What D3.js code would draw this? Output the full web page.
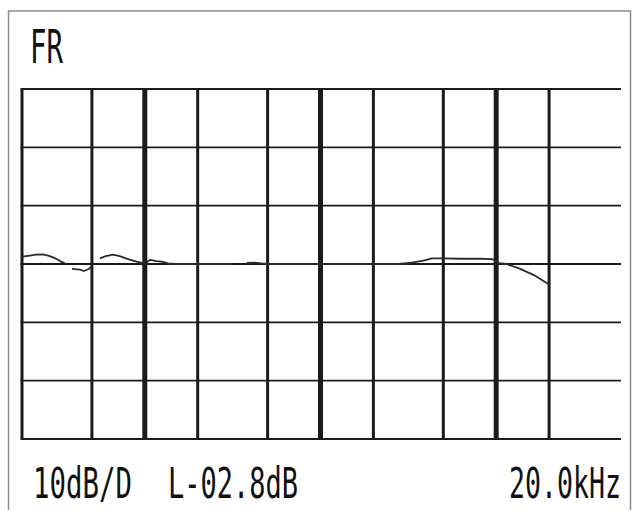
<!DOCTYPE html>
<html>
<head>
<meta charset="utf-8">
<script src="https://cdn.jsdelivr.net/npm/d3@7"></script>
<style>
  html, body { margin: 0; padding: 0; background: #fff; }
  svg { display: block; }
</style>
</head>
<body>
<div id="chart"></div>
<script>
// Data: grid frequencies (Hz), level divisions (dB) and the measured trace
const gridFreqs = [20, 50, 100, 200, 500, 1000, 2000, 5000, 10000, 20000];
const decadeFreqs = [100, 1000, 10000];
const levelTicks = [-30, -20, -10, 0, 10, 20, 30];

// null = the trace drops out on the screen
const traceFreq = [20, 22.2, 24, 26.3, 28.5, 30.8, 33, 35, 36.5, 38.5, 42.7, 45, 48, 49.5, 52,
  55.5, 60, 65.8, 72, 82, 90, 97.5, 102, 107, 117, 127, 135, 150, 316, 330, 380, 420, 462,
  500, 2800, 3290, 3800, 4320, 5060, 6160, 8000, 9490, 10400, 11400, 13500, 16400, 20000];
const traceDb = [1.25, 1.45, 1.6, 1.65, 1.4, 1.0, 0.5, 0.1, null, -0.85, -0.95, -1.2, -0.85, -0.5, null,
  0.95, 1.35, 1.6, 1.35, 0.75, 0.4, 0.15, 0.3, 0.7, 0.5, 0.35, 0.1, 0, 0, null, 0.2, 0.25, 0.1,
  0, 0, 0.25, 0.55, 0.95, 0.95, 0.9, 0.9, 0.85, 0.15, 0, -0.75, -1.9, -3.5];

const title = "FR";
const footer = ["10dB/D", "L-02.8dB", "20.0kHz"];

const width = 639;
const height = 510;

const svg = d3.select("#chart")
  .append("svg")
  .attr("width", width)
  .attr("height", height);

// outer screen frame (bottom edge falls below the picture)
svg.append("rect")
  .attr("x", 8.5).attr("y", 11)
  .attr("width", 622).attr("height", 510)
  .attr("fill", "none")
  .attr("stroke", "#8c8c8c")
  .attr("stroke-width", 1.5);

const x = d3.scaleLog().domain([20, 50000]).range([22, 619]);
const y = d3.scaleLinear().domain([-30, 30]).range([439, 89]);

const ink = "#1b1b1b";
const grid = svg.append("g");

// horizontal divisions
grid.selectAll("line.h")
  .data(levelTicks)
  .join("line")
  .attr("class", "h")
  .attr("x1", x(20) - 1.5).attr("x2", x(50000) + 2)
  .attr("y1", d => y(d)).attr("y2", d => y(d))
  .attr("stroke", ink)
  .attr("stroke-width", 1.8);

// vertical frequency lines, decades heavier
grid.selectAll("line.v")
  .data(gridFreqs)
  .join("line")
  .attr("class", "v")
  .attr("x1", d => x(d)).attr("x2", d => x(d))
  .attr("y1", y(30)).attr("y2", y(-30))
  .attr("stroke", ink)
  .attr("stroke-width", d => decadeFreqs.includes(d) ? 5 : 3);

// trace
const line = d3.line()
  .defined((d, i) => traceDb[i] !== null)
  .x((d, i) => x(traceFreq[i]))
  .y((d, i) => y(traceDb[i]));

svg.append("path")
  .attr("d", line(traceFreq))
  .attr("fill", "none")
  .attr("stroke", "#2a2a2a")
  .attr("stroke-width", 1.8)
  .attr("stroke-linejoin", "round");

// labels: squeezed mono font, like the analyser's screen font
const font = "'DejaVu Sans Mono', monospace";

function squeezed(str, px, py, size, w, anchor) {
  const t = svg.append("text")
    .attr("font-family", font)
    .attr("font-size", size)
    .attr("fill", "#111")
    .text(str);
  const sx = w / t.node().getComputedTextLength();
  const x0 = anchor === "end" ? px - w : px;
  t.attr("transform", `translate(${x0},${py}) scale(${sx},1)`);
  return t;
}

squeezed(title, 30, 63, 46, 33, "start");
squeezed(footer[0], 33, 498, 43, 99, "start");
squeezed(footer[1], 168, 498, 43, 130, "start");
squeezed(footer[2], 621, 498, 43, 112, "end");
</script>
</body>
</html>
